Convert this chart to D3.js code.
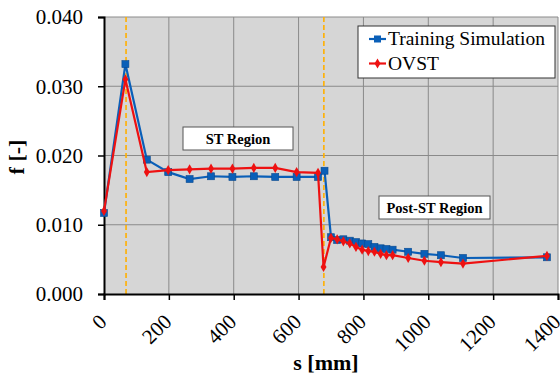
<!DOCTYPE html>
<html>
<head>
<meta charset="utf-8">
<script src="https://cdn.jsdelivr.net/npm/d3@7"></script>
<style>
html,body{margin:0;padding:0;background:#fff;}
svg{display:block;}
</style>
</head>
<body>
<svg id="chart" width="560" height="380"></svg>
<script>
// ---- data ----
const sTraining = [0, 66, 132, 198, 264, 330, 396, 462, 528, 594, 660, 680, 700, 719, 738, 758, 777, 796, 815, 834, 853, 871, 890, 938, 988, 1039, 1107, 1366];
const fTraining = [0.0117, 0.0332, 0.0194, 0.0176, 0.0166, 0.0170, 0.0169, 0.0170, 0.0169, 0.0169, 0.0169, 0.0178, 0.0082, 0.0078, 0.0079, 0.0077, 0.0075, 0.0073, 0.0072, 0.0068, 0.0066, 0.0065, 0.0064, 0.0061, 0.0058, 0.0056, 0.0052, 0.0053];
const sOVST = [0, 66, 132, 198, 264, 330, 396, 462, 528, 594, 660, 677, 700, 719, 738, 758, 777, 796, 815, 834, 853, 871, 890, 938, 988, 1039, 1107, 1366];
const fOVST = [0.0120, 0.0310, 0.0176, 0.0179, 0.0180, 0.0181, 0.0181, 0.0182, 0.0182, 0.0176, 0.0175, 0.0039, 0.0081, 0.0079, 0.0076, 0.0073, 0.0068, 0.0064, 0.0062, 0.0061, 0.0058, 0.0056, 0.0056, 0.0052, 0.0048, 0.0046, 0.0044, 0.0055];
const regionBounds = [68, 678];
const xTicks = [0, 200, 400, 600, 800, 1000, 1200, 1400];
const yTicks = [0, 0.01, 0.02, 0.03, 0.04];
const seriesNames = ["Training Simulation", "OVST"];
const regionLabels = ["ST Region", "Post-ST Region"];

// ---- layout ----
const FONT = "'Liberation Serif', 'Times New Roman', Times, serif";
const W = 560, H = 380;
const m = {l: 104, t: 17, r: 2, b: 86};
const svg = d3.select("#chart").attr("font-family", FONT);
const x = d3.scaleLinear().domain([0, 1400]).range([m.l, W - m.r]);
const y = d3.scaleLinear().domain([0, 0.04]).range([H - m.b, m.t]);
const blue = "#0a5fb8", red = "#ee1111", orange = "#ffb000";

// plot bg
svg.append("rect").attr("x", x(0)).attr("y", y(0.04))
  .attr("width", x(1400) - x(0)).attr("height", y(0) - y(0.04))
  .attr("fill", "#d6d6d6");

// grid
const g = svg.append("g");
g.selectAll(".vg").data(xTicks.slice(1)).join("line")
  .attr("x1", d => x(d)).attr("x2", d => x(d))
  .attr("y1", y(0)).attr("y2", y(0.04))
  .attr("stroke", "#8a8a8a").attr("stroke-width", 1);
g.selectAll(".hg").data(yTicks.slice(1)).join("line")
  .attr("x1", x(0)).attr("x2", x(1400))
  .attr("y1", d => y(d)).attr("y2", d => y(d))
  .attr("stroke", "#8a8a8a").attr("stroke-width", 1);

// region boundaries
g.selectAll(".rb").data(regionBounds).join("line")
  .attr("x1", d => x(d)).attr("x2", d => x(d))
  .attr("y1", y(0)).attr("y2", y(0.04))
  .attr("stroke", orange).attr("stroke-width", 1.6)
  .attr("stroke-dasharray", "5,3");

// axes
const xAxis = d3.axisBottom(x).tickValues(xTicks).tickSize(6).tickFormat("");
const yAxis = d3.axisLeft(y).tickValues(yTicks).tickSize(6).tickFormat("");
const xa = svg.append("g").attr("transform", `translate(0,${y(0)})`).call(xAxis);
const ya = svg.append("g").attr("transform", `translate(${x(0)},0)`).call(yAxis);
[xa, ya].forEach(a => {
  a.select(".domain").attr("stroke", "#000").attr("stroke-width", 2);
  a.selectAll(".tick line").attr("stroke", "#000").attr("stroke-width", 1.5);
});

// tick labels
svg.selectAll(".yl").data(yTicks).join("text")
  .attr("font-family", FONT)
  .attr("x", 83).attr("y", d => y(d)).attr("dy", "0.35em")
  .attr("text-anchor", "end").attr("font-size", 21).attr("fill", "#000")
  .text(d => d3.format(".3f")(d));
svg.selectAll(".xl").data(xTicks).join("text")
  .attr("font-family", FONT)
  .attr("transform", d => `translate(${x(d) + 4},${y(0) + 29}) rotate(-45)`)
  .attr("text-anchor", "end").attr("font-size", 21).attr("fill", "#000")
  .text(d => d);

// axis titles
svg.append("text").attr("font-family", FONT).attr("x", 326).attr("y", 370).attr("text-anchor", "middle")
  .attr("font-size", 22).attr("font-weight", "bold").text("s [mm]");
svg.append("text").attr("font-family", FONT).attr("transform", `translate(24,157) rotate(-90)`)
  .attr("text-anchor", "middle").attr("font-size", 22).attr("font-weight", "bold").text("f [-]");

// series
const line = d3.line().x(d => x(d[0])).y(d => y(d[1]));
const tData = sTraining.map((s, i) => [s, fTraining[i]]);
const oData = sOVST.map((s, i) => [s, fOVST[i]]);
svg.append("path").datum(tData).attr("d", line).attr("fill", "none")
  .attr("stroke", blue).attr("stroke-width", 2.2);
svg.selectAll(".tm").data(tData).join("rect")
  .attr("x", d => x(d[0]) - 3.5).attr("y", d => y(d[1]) - 3.5)
  .attr("width", 7).attr("height", 7).attr("fill", blue).attr("stroke", "#0b4a8e").attr("stroke-width", 0.6);
svg.append("path").datum(oData).attr("d", line).attr("fill", "none")
  .attr("stroke", red).attr("stroke-width", 2.2);
const diamond = d3.symbol().type(d3.symbolDiamond).size(30);
svg.selectAll(".om").data(oData).join("path")
  .attr("transform", d => `translate(${x(d[0])},${y(d[1])})`)
  .attr("d", diamond).attr("fill", red);

// region labels
const regionBoxes = [
  {cx: 238, cy: 138.5, w: 110, h: 23},
  {cx: 434.5, cy: 207.5, w: 111, h: 23}
];
regionBoxes.forEach((b, i) => {
  svg.append("rect").attr("x", b.cx - b.w / 2).attr("y", b.cy - b.h / 2)
    .attr("width", b.w).attr("height", b.h).attr("fill", "#fff")
    .attr("stroke", "#555").attr("stroke-width", 1);
  svg.append("text").attr("font-family", FONT).attr("x", b.cx).attr("y", b.cy).attr("dy", "0.35em")
    .attr("text-anchor", "middle").attr("font-size", 14.5).attr("font-weight", "bold")
    .text(regionLabels[i]);
});

// legend
const lg = svg.append("g");
lg.append("rect").attr("x", 358).attr("y", 26).attr("width", 197).attr("height", 52)
  .attr("fill", "#fff").attr("stroke", "#333").attr("stroke-width", 1);
const legY = [39, 63.5];
[blue, red].forEach((c, i) => {
  lg.append("line").attr("x1", 369).attr("x2", 386).attr("y1", legY[i]).attr("y2", legY[i])
    .attr("stroke", c).attr("stroke-width", 2.2);
  if (i === 0) {
    lg.append("rect").attr("x", 374).attr("y", legY[i] - 3.5).attr("width", 7).attr("height", 7).attr("fill", c);
  } else {
    lg.append("path").attr("transform", `translate(377.5,${legY[i]})`).attr("d", diamond).attr("fill", c);
  }
  lg.append("text").attr("font-family", FONT).attr("x", 388).attr("y", legY[i]).attr("dy", "0.33em")
    .attr("font-size", 19.5).attr("fill", "#000").text(seriesNames[i]);
});
</script>
</body>
</html>
